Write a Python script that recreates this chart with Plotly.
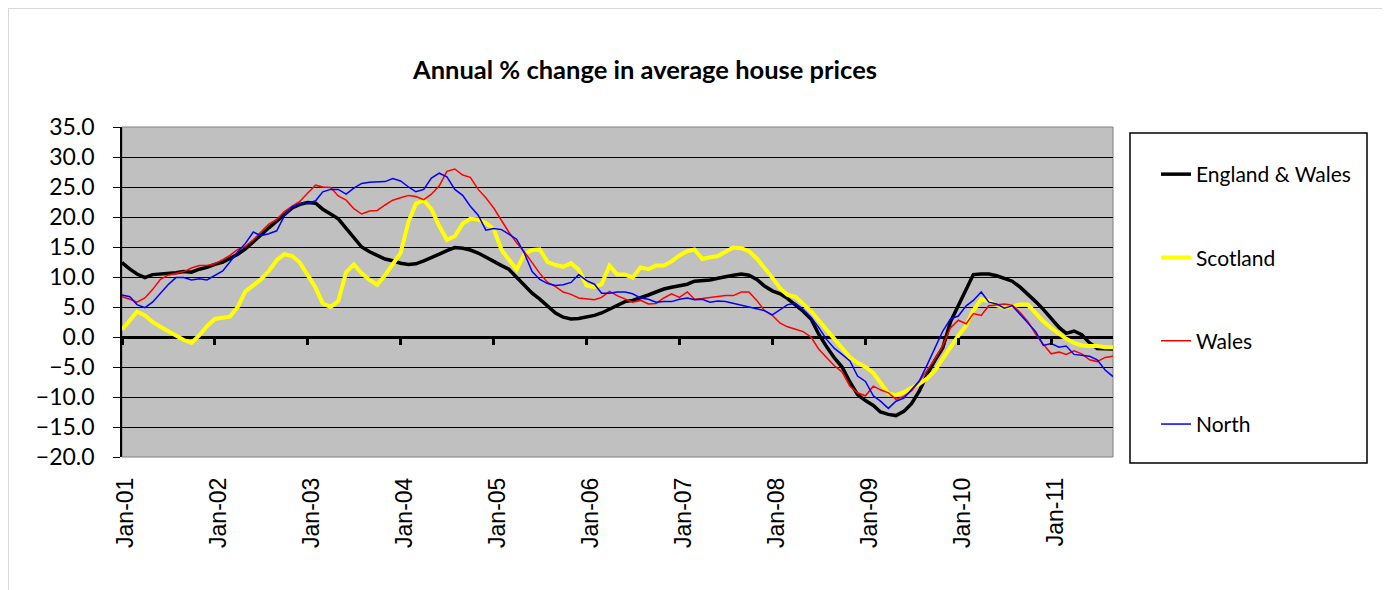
import pandas as pd
import plotly.graph_objects as go

months = pd.date_range("2001-01-01", periods=129, freq="MS")

england_wales = [12.4, 11.3, 10.5, 9.9, 10.4, 10.5, 10.5, 10.7, 10.9, 10.8,
                 11.3, 11.6, 12.1, 12.5, 13.1, 13.8, 14.7, 15.8, 17.0, 18.2,
                 19.3, 20.5, 21.5, 22.1, 22.4, 22.3, 21.3, 20.5, 19.7, 18.1,
                 16.5, 15.0, 14.2, 13.6, 13.0, 12.7, 12.3, 12.1, 12.2, 12.7,
                 13.2, 13.8, 14.4, 14.9, 14.8, 14.5, 14.0, 13.3, 12.5, 11.9,
                 11.3, 10.0, 8.7, 7.3, 6.3, 5.2, 4.0, 3.3, 3.0, 3.1,
                 3.3, 3.6, 4.0, 4.6, 5.3, 5.9, 6.1, 6.5, 7.0, 7.5,
                 8.0, 8.3, 8.6, 8.8, 9.3, 9.4, 9.5, 9.8, 10.1, 10.3,
                 10.5, 10.3, 9.6, 8.5, 7.7, 7.2, 6.4, 5.4, 4.3, 3.0,
                 0.5, -1.6, -3.5, -5.0, -7.5, -9.6, -10.6, -11.4, -12.5, -12.9,
                 -13.1, -12.4, -11.1, -9.0, -6.2, -3.9, -1.8, 2.5, 5.3, 7.9,
                 10.4, 10.5, 10.5, 10.2, 9.8, 9.3, 8.3, 7.2, 5.9, 4.6,
                 3.0, 1.6, 0.6, 1.0, 0.4, -1.0, -1.9, -2.0, -2.0]

scotland = [1.2, 2.8, 4.2, 3.6, 2.5, 1.7, 1.0, 0.2, -0.5, -1.0,
            0.3, 1.8, 3.0, 3.2, 3.4, 5.0, 7.6, 8.6, 9.6, 11.0,
            12.8, 13.8, 13.5, 12.4, 10.3, 8.2, 5.6, 5.0, 6.0, 10.8,
            12.1, 10.6, 9.5, 8.7, 10.3, 12.2, 14.0, 19.2, 22.2, 22.8,
            21.3, 18.5, 16.2, 16.8, 18.9, 19.7, 19.6, 19.0, 18.0, 14.5,
            12.8, 11.2, 13.8, 14.5, 14.6, 12.5, 12.0, 11.7, 12.3, 11.2,
            8.6, 8.3, 8.8, 11.9, 10.4, 10.4, 9.9, 11.6, 11.3, 11.9,
            11.9, 12.6, 13.6, 14.3, 14.6, 13.0, 13.3, 13.5, 14.2, 14.9,
            14.8, 14.3, 13.1, 11.6, 9.9, 8.1, 7.0, 6.7, 5.5, 4.3,
            2.8, 1.2, -0.5, -2.0, -3.4, -4.3, -5.0, -6.0, -7.5, -9.4,
            -9.7, -9.2, -8.5, -7.8, -6.9, -5.6, -3.6, -1.6, 0.2, 1.9,
            4.4, 6.3, 6.0, 5.3, 4.9, 5.1, 5.4, 5.4, 4.0, 2.6,
            1.5, 0.5, -0.3, -1.0, -1.4, -1.5, -1.5, -1.7, -1.7]

wales = [6.7, 6.3, 5.8, 6.5, 7.9, 9.6, 10.3, 10.6, 10.9, 11.5,
         11.9, 11.9, 12.2, 12.9, 13.6, 14.6, 15.1, 16.2, 17.5, 18.8,
         19.6, 20.9, 21.8, 22.6, 24.0, 25.3, 25.0, 24.9, 23.5, 22.8,
         21.4, 20.5, 21.0, 21.1, 22.0, 22.8, 23.2, 23.6, 23.4, 22.9,
         23.8, 25.2, 27.6, 28.0, 27.0, 26.6, 24.6, 23.2, 21.5, 19.3,
         17.5, 15.7, 14.2, 12.4, 10.6, 9.1, 8.4, 7.5, 7.1, 6.5,
         6.3, 6.2, 6.6, 7.6, 6.9, 6.4, 5.8, 6.1, 5.5, 5.6,
         6.5, 7.2, 6.6, 7.5, 6.3, 6.4, 6.6, 6.8, 6.9, 6.9,
         7.5, 7.5, 6.1, 4.4, 3.6, 2.3, 1.7, 1.3, 0.9, 0.0,
         -2.0, -3.4, -4.8, -5.8, -8.2, -9.3, -9.8, -8.2, -8.8, -9.3,
         -10.4, -9.9, -9.0, -7.4, -5.6, -3.7, -1.4, 1.5, 2.8, 2.2,
         3.9, 3.6, 5.2, 5.4, 5.5, 5.3, 4.1, 2.6, 0.5, -1.2,
         -2.8, -2.5, -2.9, -2.3, -2.8, -3.8, -4.1, -3.4, -3.2]

north = [7.0, 6.7, 5.4, 4.9, 5.8, 7.2, 8.7, 9.9, 9.9, 9.5,
         9.7, 9.5, 10.3, 11.0, 12.5, 14.2, 15.6, 17.5, 16.9, 17.2,
         17.7, 20.2, 21.7, 22.2, 22.3, 22.7, 24.2, 24.6, 24.6, 23.8,
         24.8, 25.6, 25.8, 25.8, 25.9, 26.4, 26.0, 25.0, 24.2, 24.6,
         26.5, 27.3, 26.7, 24.6, 23.6, 21.8, 20.3, 17.8, 18.1, 17.9,
         17.2, 16.3, 14.0, 10.9, 9.6, 8.9, 8.6, 8.7, 9.1, 10.4,
         9.4, 8.8, 7.3, 7.3, 7.5, 7.5, 7.2, 6.5, 6.3, 5.8,
         5.9, 5.9, 6.3, 6.5, 6.2, 6.3, 5.8, 6.0, 5.9, 5.6,
         5.3, 5.0, 4.8, 4.4, 3.7, 4.6, 5.4, 5.6, 4.6, 3.3,
         1.6, -0.4, -1.9, -2.9, -4.0, -6.5, -7.4, -9.8, -10.7, -11.9,
         -10.7, -10.2, -8.8, -7.3, -4.6, -1.9, 1.0, 3.0, 3.5, 5.2,
         6.1, 7.5, 5.8, 5.5, 4.8, 5.2, 3.8, 2.3, 0.9, -1.4,
         -1.1, -1.7, -1.5, -2.9, -3.1, -3.2, -3.8, -5.5, -6.6]

series_names = ["England & Wales", "Scotland", "Wales", "North"]
series_values = [england_wales, scotland, wales, north]
series_colors = ["#000000", "#FFFF00", "#FF0000", "#0000FF"]
series_widths = [3.5, 4, 1.5, 1.5]

title_text = "Annual % change in average house prices"

# figure geometry (figure coordinates; the page adds an 8px body margin)
W, H = 1378, 600
PL, PR, PT, PB = 114, 1105, 119, 449
PW, PH = PR - PL, PB - PT


def px(x):
    return (x - PL) / PW


def py(y):
    return (PB - y) / PH


fig = go.Figure()
for name, vals, col, w in zip(series_names, series_values, series_colors, series_widths):
    fig.add_trace(go.Scatter(x=months, y=vals, mode="lines", name=name,
                             legendgroup=name,
                             line=dict(color=col, width=w)))

# invisible helper trace so the tick axis on the zero line is rendered
fig.add_trace(go.Scatter(x=months, y=england_wales, mode="lines", xaxis="x2",
                         line=dict(width=0), opacity=0, showlegend=False,
                         hoverinfo="skip"))

x_range = [months[0], months[-1]]

fig.update_layout(
    width=W, height=H,
    margin=dict(l=PL, r=W - PR, t=PT, b=H - PB),
    paper_bgcolor="white",
    plot_bgcolor="#C0C0C0",
    title=dict(text="<b>" + title_text + "</b>", x=637 / W, xref="container",
               xanchor="center", y=1 - 62 / H, yref="container", yanchor="middle",
               font=dict(family="Lato", size=25.5, color="black")),
    xaxis=dict(type="date", range=x_range, tick0="2001-01-01", dtick="M12",
               tickformat="%b-%y", tickangle=-90, showgrid=False, zeroline=False,
               showline=False, ticks="", ticklabelstandoff=15, ticklabelshift=4,
               tickfont=dict(family="Liberation Sans", size=23, color="black")),
    xaxis2=dict(type="date", range=x_range, tick0="2001-01-01", dtick="M12",
                overlaying="x", anchor="free", position=20 / 55,
                showgrid=False, zeroline=False, showline=False,
                ticks="outside", ticklen=7, tickwidth=2.5, tickcolor="black",
                showticklabels=False),
    yaxis=dict(range=[-20, 35], dtick=5, tick0=0, tickformat=".1f",
               showgrid=True, gridcolor="black", gridwidth=1,
               zeroline=True, zerolinecolor="black", zerolinewidth=2.5,
               showline=True, linecolor="black", linewidth=1.5,
               ticks="outside", ticklen=7, tickcolor="black", tickwidth=1.2,
               ticklabelstandoff=14,
               tickfont=dict(family="Lato", size=23, color="black")),
    legend=dict(x=px(1148), xanchor="left", y=py(146),
                yanchor="top", tracegroupgap=53, bgcolor="rgba(0,0,0,0)",
                borderwidth=0, font=dict(family="Lato", size=21, color="black")),
    showlegend=True,
    shapes=[
        dict(type="rect", xref="paper", yref="paper", x0=0, x1=1, y0=0, y1=1,
             line=dict(color="#808080", width=1), layer="between"),
        dict(type="rect", xref="paper", yref="paper",
             x0=px(1122), x1=px(1359), y0=py(455), y1=py(125),
             line=dict(color="black", width=1.5), fillcolor="rgba(0,0,0,0)"),
        dict(type="rect", xref="paper", yref="paper",
             x0=px(0), x1=px(1377), y0=py(640), y1=py(0),
             line=dict(color="#D9D9D9", width=2), fillcolor="rgba(0,0,0,0)"),
    ],
)

fig.write_html("out.html")
